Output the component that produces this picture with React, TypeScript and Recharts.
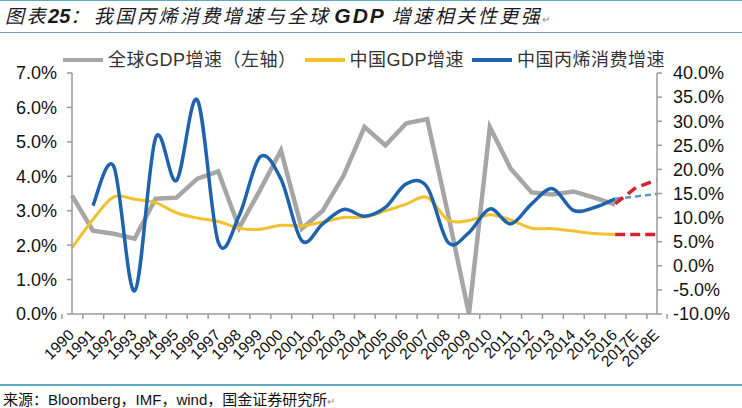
import React from 'react';
import { ComposedChart, Line, XAxis, YAxis } from 'recharts';

const years = ['1990','1991','1992','1993','1994','1995','1996','1997','1998','1999','2000','2001','2002','2003','2004','2005','2006','2007','2008','2009','2010','2011','2012','2013','2014','2015','2016','2017E','2018E'];

// 全球GDP增速 (left axis, %)
const globalGdp = [3.44, 2.42, 2.33, 2.19, 3.35, 3.38, 3.93, 4.14, 2.5, 3.6, 4.75, 2.48, 3.0, 4.02, 5.43, 4.9, 5.54, 5.66, 2.9, 0.0, 5.43, 4.22, 3.53, 3.47, 3.56, 3.38, 3.18, null, null];
// 中国GDP增速 (right axis, %)
const chinaGdp = [3.7, 9.6, 14.3, 13.8, 13.1, 11.0, 9.9, 9.2, 7.8, 7.6, 8.4, 8.3, 9.1, 10.0, 10.1, 11.4, 12.8, 14.2, 9.5, 9.4, 10.6, 9.5, 7.8, 7.7, 7.2, 6.7, 6.5, null, null];
// 中国丙烯消费增速 (right axis, %)
const propylene = [null, 12.5, 20.6, -5.2, 26.5, 17.7, 34.4, 4.9, 10.4, 22.6, 18.0, 5.2, 8.7, 11.7, 10.3, 12.1, 17.0, 16.3, 4.85, 6.9, 11.8, 8.7, 12.85, 16.0, 11.5, 12.1, 13.9, null, null];
// forecasts
const propyleneForecast = [null, null, null, null, null, null, null, null, null, null, null, null, null, null, null, null, null, null, null, null, null, null, null, null, null, null, 13.9, 14.4, 14.9];
const redUpper = [null, null, null, null, null, null, null, null, null, null, null, null, null, null, null, null, null, null, null, null, null, null, null, null, null, null, 12.9, 16.25, 17.8];
const redLower = [null, null, null, null, null, null, null, null, null, null, null, null, null, null, null, null, null, null, null, null, null, null, null, null, null, null, 6.5, 6.5, 6.5];

const leftTicks = [0, 1, 2, 3, 4, 5, 6, 7];
const rightTicks = [-10, -5, 0, 5, 10, 15, 20, 25, 30, 35, 40];

const data = years.map((y, i) => ({
  year: y,
  globalGdp: globalGdp[i],
  chinaGdp: chinaGdp[i],
  propylene: propylene[i],
  propyleneForecast: propyleneForecast[i],
  redUpper: redUpper[i],
  redLower: redLower[i],
}));

const W = 742;
const H = 408;
const LEFT_W = 72;
const RIGHT_W = 85;
const TOP = 73;
const XAXIS_H = 94;
const PLOT_W = W - LEFT_W - RIGHT_W;
const HALF_BAND = PLOT_W / years.length / 2;

const FONT = "'Liberation Sans', Arial, 'Noto Sans CJK SC', sans-serif";
const AXIS_COLOR = '#9a9a9a';
const GRAY = '#a6a6a6';
const YELLOW = '#f2c12e';
const BLUE = '#1f63ad';
const LIGHT_BLUE = '#5b95cf';
const RED = '#d9222c';
const RULE = '#5fa9c4';

// Excel-like smoothed line (Catmull-Rom through the points)
const smooth: any = (context: any) => {
  let pts: number[][] = [];
  return {
    areaStart() {},
    areaEnd() {},
    lineStart() { pts = []; },
    lineEnd() {
      const n = pts.length;
      if (!n) return;
      context.moveTo(pts[0][0], pts[0][1]);
      for (let i = 0; i < n - 1; i++) {
        const p0 = pts[i - 1] || pts[i];
        const p1 = pts[i];
        const p2 = pts[i + 1];
        const p3 = pts[i + 2] || p2;
        context.bezierCurveTo(
          p1[0] + (p2[0] - p0[0]) / 6, p1[1] + (p2[1] - p0[1]) / 6,
          p2[0] - (p3[0] - p1[0]) / 6, p2[1] - (p3[1] - p1[1]) / 6,
          p2[0], p2[1]
        );
      }
    },
    point(x: number, y: number) { pts.push([+x, +y]); },
  };
};

const XTick = (props: any) => {
  const { x, y, payload, index } = props;
  const ax = x + 3;
  const ay = y + 22;
  return (
    <g>
      <line x1={x - HALF_BAND} x2={x - HALF_BAND} y1={y} y2={y + 5} stroke={AXIS_COLOR} strokeWidth={1.5} />
      {index === years.length - 1 && (
        <line x1={x + HALF_BAND} x2={x + HALF_BAND} y1={y} y2={y + 5} stroke={AXIS_COLOR} strokeWidth={1.5} />
      )}
      <text x={ax} y={ay} textAnchor="end" transform={`rotate(-45, ${ax}, ${ay})`} fontSize={15.5} fill="#111" fontFamily={FONT}>
        {payload.value}
      </text>
    </g>
  );
};

const fmt = (v: number) => `${v.toFixed(1)}%`;

const legendItems = [
  { label: '全球GDP增速（左轴）', color: GRAY, w: 4.5 },
  { label: '中国GDP增速', color: YELLOW, w: 3.5 },
  { label: '中国丙烯消费增速', color: BLUE, w: 3.5 },
];

export default function App() {
  return (
    <div style={{ position: 'absolute', left: 0, top: 0, width: W, height: H, background: '#fff', overflow: 'hidden', fontFamily: FONT }}>
      <div style={{ position: 'absolute', left: 0, top: 0, width: W, height: 1, background: RULE }} />
      <div style={{ position: 'absolute', left: 5, top: 2, whiteSpace: 'nowrap', fontStyle: 'italic', fontSize: 19, letterSpacing: 2.5, color: '#1a1a1a', lineHeight: '26px', fontFamily: "'Noto Sans CJK SC', sans-serif" }}>
        图表<span style={{ fontWeight: 'bold', fontSize: 20, fontFamily: FONT, letterSpacing: 0 }}>25</span>：<span style={{ marginLeft: 2 }}>我国丙烯消费增速与全球</span>
        <span style={{ fontWeight: 'bold', fontSize: 21, fontFamily: FONT, letterSpacing: 2, margin: '0 6px 0 4px' }}>GDP</span>增速相关性更强<span style={{ fontSize: 10, color: '#888', fontStyle: 'normal' }}>↵</span>
      </div>
      <div style={{ position: 'absolute', left: 0, top: 32, width: W, height: 1, background: '#6f9fba' }} />

      <div style={{ position: 'absolute', left: 63, top: 49, display: 'flex', alignItems: 'center', whiteSpace: 'nowrap', fontSize: 18, color: '#333', lineHeight: '22px', letterSpacing: 0.5 }}>
        {legendItems.map((it) => (
          <div key={it.label} style={{ display: 'flex', alignItems: 'center', marginRight: 8 }}>
            <div style={{ width: 40, height: it.w, background: it.color, marginRight: 5 }} />
            <span>{it.label}</span>
          </div>
        ))}
      </div>

      <div style={{ position: 'absolute', left: 0, top: 0 }}>
        <ComposedChart width={W} height={H} data={data} margin={{ top: TOP, right: 0, bottom: 0, left: 0 }}>
          <XAxis dataKey="year" xAxisId="x" height={XAXIS_H} interval={0} tickSize={0} tickMargin={0} tick={<XTick />} axisLine={{ stroke: AXIS_COLOR, strokeWidth: 1.5 }} tickLine={false} />
          <YAxis yAxisId="left" orientation="left" width={LEFT_W} domain={[0, 7]} ticks={leftTicks} interval={0} tickFormatter={fmt} allowDataOverflow
            tick={{ fontSize: 18, fill: '#111', fontFamily: FONT }} tickSize={5} tickMargin={10}
            axisLine={{ stroke: AXIS_COLOR, strokeWidth: 1.5 }} tickLine={{ stroke: AXIS_COLOR, strokeWidth: 1.5 }} />
          <YAxis yAxisId="right" orientation="right" width={RIGHT_W} domain={[-10, 40]} ticks={rightTicks} interval={0} tickFormatter={fmt} allowDataOverflow
            tick={{ fontSize: 18, fill: '#111', fontFamily: FONT }} tickSize={5} tickMargin={11}
            axisLine={{ stroke: AXIS_COLOR, strokeWidth: 1.5 }} tickLine={{ stroke: AXIS_COLOR, strokeWidth: 1.5 }} />
          <Line xAxisId="x" yAxisId="left" dataKey="globalGdp" type="linear" stroke={GRAY} strokeWidth={4.5} dot={false} isAnimationActive={false} connectNulls={false} />
          <Line xAxisId="x" yAxisId="right" dataKey="chinaGdp" type={smooth} stroke={YELLOW} strokeWidth={3} dot={false} isAnimationActive={false} />
          <Line xAxisId="x" yAxisId="right" dataKey="propylene" type={smooth} stroke={BLUE} strokeWidth={3.5} dot={false} isAnimationActive={false} />
          <Line xAxisId="x" yAxisId="right" dataKey="propyleneForecast" type="linear" stroke={LIGHT_BLUE} strokeWidth={2.5} strokeDasharray="6 4" dot={false} isAnimationActive={false} />
          <Line xAxisId="x" yAxisId="right" dataKey="redUpper" type="linear" stroke={RED} strokeWidth={3.5} strokeDasharray="10 6" dot={false} isAnimationActive={false} />
          <Line xAxisId="x" yAxisId="right" dataKey="redLower" type="linear" stroke={RED} strokeWidth={3.5} strokeDasharray="10 5" dot={false} isAnimationActive={false} />
        </ComposedChart>
      </div>

      <div style={{ position: 'absolute', left: 0, top: 384, width: W, height: 1.5, background: RULE }} />
      <div style={{ position: 'absolute', left: 3, top: 388, whiteSpace: 'nowrap', fontSize: 15, color: '#111', lineHeight: '22px', fontFamily: "'Noto Sans CJK SC', sans-serif" }}>
        来源：<span style={{ fontFamily: FONT }}>Bloomberg</span>，<span style={{ fontFamily: FONT }}>IMF</span>，<span style={{ fontFamily: FONT }}>wind</span>，国金证券研究所<span style={{ fontSize: 10, color: '#888' }}>↵</span>
      </div>
    </div>
  );
}
